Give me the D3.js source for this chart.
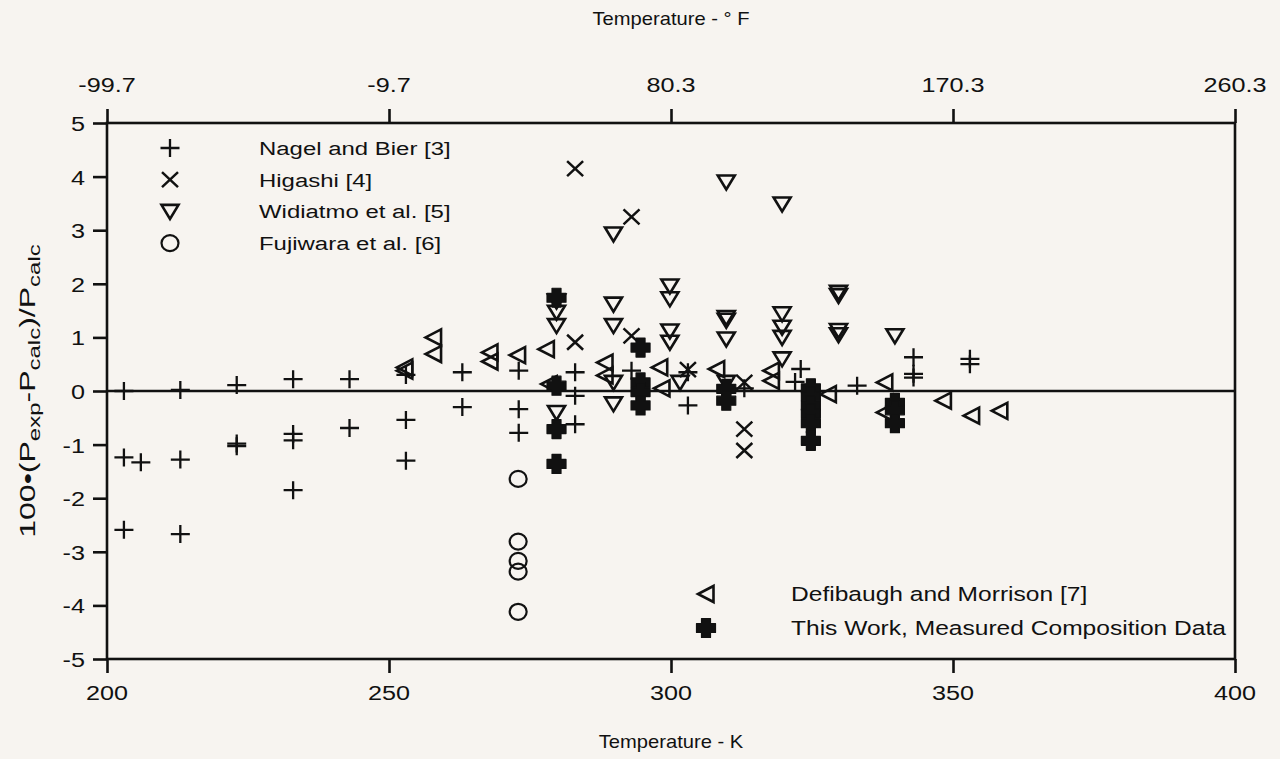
<!DOCTYPE html>
<html>
<head>
<meta charset="utf-8">
<script src="https://cdn.jsdelivr.net/npm/d3@7"></script>
<style>
  html, body { margin: 0; padding: 0; background: #f7f4f0; }
  svg { display: block; }
  text { font-family: "Liberation Sans", Arial, Helvetica, sans-serif; fill: #111; }
</style>
</head>
<body>
<svg id="chart" width="1280" height="759"></svg>
<script>
// Deviation of measured vapour pressure from calculated values, by data source.
// Each array holds [temperature K, 100*(Pexp-Pcalc)/Pcalc].
const nagelBier = [
  [203, 0.0], [203, -1.24], [203, -2.59], [206, -1.33],
  [213, 0.02], [213, -1.28], [213, -2.67],
  [223, 0.11], [223, -0.98], [223, -1.03],
  [233, 0.22], [233, -0.8], [233, -0.92], [233, -1.85],
  [243, 0.22], [243, -0.69],
  [253, 0.3], [253, -0.54], [253, -1.3],
  [263, 0.35], [263, -0.3],
  [273, 0.38], [273, -0.34], [273, -0.78],
  [283, 0.35], [283, -0.09], [283, -0.62],
  [293, 0.38],
  [303, 0.35], [303, -0.27],
  [313, 0.05],
  [323, 0.41], [322, 0.17],
  [333, 0.1],
  [343, 0.63], [343, 0.32], [343, 0.25],
  [353, 0.6], [353, 0.5]
];
const higashi = [
  [283, 4.15], [283, 0.91],
  [293, 3.25], [293, 1.03],
  [303, 0.4],
  [313, 0.16], [313, -0.71], [313, -1.11]
];
const widiatmo = [
  [279.7, 1.68], [279.7, 1.47], [279.7, 1.22], [279.7, -0.4],
  [289.8, 2.93], [289.8, 1.62], [289.8, 1.22], [289.8, 0.16], [289.8, -0.24],
  [299.8, 1.96], [299.8, 1.72], [299.8, 1.12], [299.8, 0.91], [301.6, 0.16],
  [309.8, 3.9], [309.8, 1.37], [309.8, 1.32], [309.8, 0.97], [309.8, 0.16],
  [319.7, 3.49], [319.7, 1.44], [319.7, 1.19], [319.7, 1.0], [319.7, 0.6],
  [329.7, 1.84], [329.7, 1.78], [329.7, 1.13], [329.7, 1.05],
  [339.7, 1.03]
];
const fujiwara = [
  [272.9, -1.64], [272.9, -2.81], [272.9, -3.17], [272.9, -3.37], [272.9, -4.12]
];
const defibaugh = [
  [252.8, 0.44], [252.8, 0.38],
  [257.9, 1.0], [257.9, 0.69],
  [267.9, 0.72], [267.9, 0.55],
  [272.8, 0.67],
  [277.9, 0.78], [278.4, 0.13],
  [288.3, 0.53], [288.3, 0.29],
  [298.0, 0.44], [298.4, 0.05],
  [308.1, 0.41],
  [317.8, 0.38], [317.8, 0.19],
  [327.9, -0.06],
  [337.9, 0.16], [337.9, -0.4],
  [348.3, -0.18],
  [353.3, -0.46],
  [358.3, -0.37]
];
const thisWork = [
  [279.7, 1.74], [279.7, 0.1], [279.7, -0.71], [279.7, -1.36],
  [294.6, 0.81], [294.6, 0.16], [294.6, -0.02], [294.6, -0.27],
  [309.8, 0.04], [309.8, -0.18],
  [324.8, 0.05], [324.8, -0.1], [324.8, -0.27], [324.8, -0.42], [324.8, -0.6], [324.8, -0.93],
  [339.7, -0.22], [339.7, -0.36], [339.7, -0.6]
];

// Axis ticks: kelvin on the bottom, the same positions labelled in °F on top.
const kelvinTicks = [200, 250, 300, 350, 400];
const fahrenheitLabels = ["-99.7", "-9.7", "80.3", "170.3", "260.3"];
const yTicks = [5, 4, 3, 2, 1, 0, -1, -2, -3, -4, -5];

const legendTop = [
  { sym: "plus", label: "Nagel and Bier [3]" },
  { sym: "times", label: "Higashi [4]" },
  { sym: "triDown", label: "Widiatmo et al. [5]" },
  { sym: "circle", label: "Fujiwara et al. [6]" }
];
const legendBottom = [
  { sym: "triLeft", label: "Defibaugh and Morrison [7]" },
  { sym: "fillCross", label: "This Work, Measured Composition Data" }
];

const svg = d3.select("#chart");
const ink = "#111";
const WIDE = 1.25;   // horizontal stretch of the lettering

const x = d3.scaleLinear().domain([200, 400]).range([107, 1235]);
const y = d3.scaleLinear().domain([-5, 5]).range([659, 123]);

// Text placed at (px, py) and widened horizontally.
function label(parent, px, py, str, size, anchor, sx) {
  return parent.append("text")
    .attr("transform", `translate(${px},${py}) scale(${sx || WIDE},1)`)
    .attr("text-anchor", anchor || "start")
    .attr("font-size", size)
    .text(str);
}

// Marker shapes, drawn around the origin.
function marker(g, sym) {
  switch (sym) {
    case "plus":
      g.append("path").attr("d", "M-9.5,0H9.5M0,-9V9")
        .attr("stroke", ink).attr("stroke-width", 2.3).attr("fill", "none");
      break;
    case "times":
      g.append("path").attr("d", "M-8,-7.5L8,7.5M-8,7.5L8,-7.5")
        .attr("stroke", ink).attr("stroke-width", 2.5).attr("fill", "none");
      break;
    case "triDown":
      g.append("path").attr("d", "M-8.5,-6.5L8.5,-6.5L0,7.5Z")
        .attr("stroke", ink).attr("stroke-width", 2.6).attr("fill", "none");
      break;
    case "triLeft":
      g.append("path").attr("d", "M7.5,-8L7.5,8L-8,0Z")
        .attr("stroke", ink).attr("stroke-width", 2.6).attr("fill", "none");
      break;
    case "circle":
      g.append("ellipse").attr("rx", 8.5).attr("ry", 8)
        .attr("stroke", ink).attr("stroke-width", 2.2).attr("fill", "none");
      break;
    case "fillCross":
      g.append("path").attr("d", "M-4.5,-9.5H4.5V-4.5H9.5V4.5H4.5V9.5H-4.5V4.5H-9.5V-4.5H-4.5Z")
        .attr("fill", ink).attr("stroke", ink).attr("stroke-width", 1.2)
        .attr("stroke-linejoin", "round");
      break;
  }
}

// Frame
const frame = svg.append("g");
frame.append("rect")
  .attr("x", x(200)).attr("y", y(5))
  .attr("width", x(400) - x(200)).attr("height", y(-5) - y(5))
  .attr("fill", "none").attr("stroke", ink).attr("stroke-width", 2.6);

// Zero reference line
frame.append("line")
  .attr("x1", x(200)).attr("x2", x(400))
  .attr("y1", y(0)).attr("y2", y(0))
  .attr("stroke", ink).attr("stroke-width", 2.6);

// Tick marks from the library's axes; labels are set separately so they can be widened.
const xAxis = svg.append("g").attr("transform", `translate(0,${y(-5)})`)
  .call(d3.axisBottom(x).tickValues(kelvinTicks).tickSize(14).tickFormat(""));
const xTop = svg.append("g").attr("transform", `translate(0,${y(5)})`)
  .call(d3.axisTop(x).tickValues(kelvinTicks).tickSize(14).tickFormat(""));
const yAxis = svg.append("g").attr("transform", `translate(${x(200)},0)`)
  .call(d3.axisLeft(y).tickValues(yTicks).tickSize(14).tickFormat(""));
[xAxis, xTop, yAxis].forEach(a => {
  a.select(".domain").remove();
  a.selectAll(".tick line").attr("stroke", ink).attr("stroke-width", 2.6);
});

const tickLabels = svg.append("g");
kelvinTicks.forEach(k => label(tickLabels, x(k), y(-5) + 41, String(k), 21, "middle", 1.2));
kelvinTicks.forEach((k, i) => label(tickLabels, x(k), y(5) - 31, fahrenheitLabels[i], 21, "middle", 1.2));
yTicks.forEach(v => label(tickLabels, x(200) - 22, y(v) + 8, String(v), 21, "end", 1.2));

// Axis titles
label(svg, 671, 25, "Temperature - ° F", 18, "middle", 1.12);
label(svg, 671, 748, "Temperature - K", 18, "middle", 1.12);

const yTitle = svg.append("text")
  .attr("transform", `translate(35,${y(0)}) rotate(-90) scale(1,0.68)`)
  .attr("text-anchor", "middle").attr("font-size", 32);
yTitle.append("tspan").text("100•(P");
yTitle.append("tspan").attr("font-size", 24).attr("dy", 8).text("exp");
yTitle.append("tspan").attr("dy", -8).text("-P");
yTitle.append("tspan").attr("font-size", 24).attr("dy", 8).text("calc");
yTitle.append("tspan").attr("dy", -8).text(")/P");
yTitle.append("tspan").attr("font-size", 24).attr("dy", 8).text("calc");

// Data series
const series = [
  { data: nagelBier, sym: "plus" },
  { data: higashi, sym: "times" },
  { data: widiatmo, sym: "triDown" },
  { data: fujiwara, sym: "circle" },
  { data: defibaugh, sym: "triLeft" },
  { data: thisWork, sym: "fillCross" }
];
const marks = svg.append("g");
series.forEach(s => {
  s.data.forEach(d => {
    const g = marks.append("g").attr("transform", `translate(${x(d[0])},${y(d[1])})`);
    marker(g, s.sym);
  });
});

// Legends
const lt = svg.append("g");
legendTop.forEach((item, i) => {
  const cy = 148 + i * 31.7;
  marker(lt.append("g").attr("transform", `translate(170,${cy})`), item.sym);
  label(lt, 259, cy + 7, item.label, 19, "start", 1.26);
});
const lb = svg.append("g");
legendBottom.forEach((item, i) => {
  const cy = 594 + i * 34;
  marker(lb.append("g").attr("transform", `translate(706,${cy})`), item.sym);
  label(lb, 791, cy + 7, item.label, 19.5, "start", 1.26);
});
</script>
</body>
</html>
